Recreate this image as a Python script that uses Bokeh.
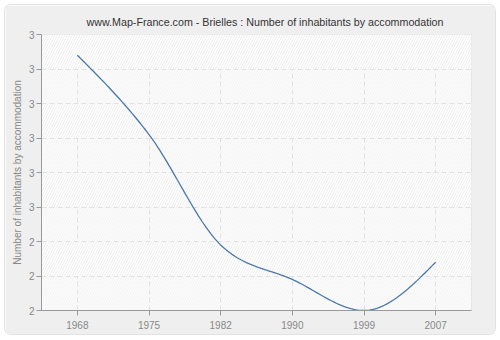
import numpy as np
from bokeh.plotting import figure
from bokeh.models import Range1d, FixedTicker, NumeralTickFormatter, BoxAnnotation
from bokeh.embed import file_html
from bokeh.resources import INLINE

title = "www.Map-France.com - Brielles : Number of inhabitants by accommodation"
y_label = "Number of inhabitants by accommodation"
years = ["1968", "1975", "1982", "1990", "1999", "2007"]
values = [2.94, 2.71, 2.39, 2.29, 2.20, 2.34]
y_ticks = [2.2, 2.3, 2.4, 2.5, 2.6, 2.7, 2.8, 2.9, 3.0]

x = np.arange(len(years), dtype=float)
y = np.array(values, dtype=float)


def monotone_curve(xs, ys, n=40):
    h = np.diff(xs)
    s = np.diff(ys) / h
    m = np.zeros_like(ys)
    for i in range(1, len(ys) - 1):
        p_ = (s[i - 1] * h[i] + s[i] * h[i - 1]) / (h[i - 1] + h[i])
        m[i] = (np.sign(s[i - 1]) + np.sign(s[i])) * min(abs(s[i - 1]), abs(s[i]), 0.5 * abs(p_))
    m[0] = (3 * s[0] - m[1]) / 2
    m[-1] = (3 * s[-1] - m[-2]) / 2
    cx, cy = [], []
    for i in range(len(xs) - 1):
        t = np.linspace(0, 1, n)
        h00 = 2 * t**3 - 3 * t**2 + 1
        h10 = t**3 - 2 * t**2 + t
        h01 = -2 * t**3 + 3 * t**2
        h11 = t**3 - t**2
        cx.extend(xs[i] + t * h[i])
        cy.extend(h00 * ys[i] + h10 * h[i] * m[i] + h01 * ys[i + 1] + h11 * h[i] * m[i + 1])
    return cx, cy


cx, cy = monotone_curve(x, y)

FONT = "Liberation Sans"

p = figure(width=490, height=329, output_backend="svg", toolbar_location=None,
           x_range=Range1d(-0.5, 5.5), y_range=Range1d(2.2, 3.0),
           title=title, min_border_left=36, min_border_right=24,
           min_border_top=29, min_border_bottom=24)
p.margin = (5, 5, 5, 5)
p.styles = {"border-radius": "6px", "overflow": "hidden",
            "box-shadow": "0 0 0 1px #e2e2e2"}

p.border_fill_color = "#efefef"
p.background_fill_color = "#fbfbfb"
p.outline_line_color = "#dddddd"

p.title.text_font = FONT
p.title.text_font_size = "10.7px"
p.title.text_font_style = "normal"
p.title.text_color = "#333333"
p.title.align = "left"
p.title.offset = 45
p.title.vertical_align = "top"
p.title.standoff = 10

bg = BoxAnnotation(fill_color="#fbfbfb", fill_alpha=1.0, hatch_pattern="/",
                   hatch_color="#f4f4f4", hatch_scale=5, hatch_weight=1,
                   line_alpha=0, level="image")
p.add_layout(bg)

p.xaxis.ticker = FixedTicker(ticks=list(x))
p.xaxis.major_label_overrides = {i: yr for i, yr in enumerate(years)}
p.yaxis.ticker = FixedTicker(ticks=y_ticks)
p.yaxis.formatter = NumeralTickFormatter(format="0")
p.yaxis.axis_label = y_label

for ax in (p.xaxis[0], p.yaxis[0]):
    ax.axis_line_color = "#999999"
    ax.major_tick_line_color = "#999999"
    ax.major_tick_out = 5
    ax.major_tick_in = 0
    ax.minor_tick_line_color = None
    ax.major_label_text_font = FONT
    ax.major_label_text_font_size = "10px"
    ax.major_label_text_color = "#888888"
    ax.axis_label_text_font = FONT
    ax.axis_label_text_font_size = "10px"
    ax.axis_label_text_font_style = "normal"
    ax.axis_label_text_color = "#888888"
p.yaxis.axis_label_standoff = 3
p.yaxis.major_label_standoff = 2
p.xaxis.major_label_standoff = 5

p.xgrid.ticker = FixedTicker(ticks=list(x))
p.ygrid.ticker = FixedTicker(ticks=y_ticks)
for g in (p.xgrid[0], p.ygrid[0]):
    g.grid_line_color = "#e2e2e2"
    g.grid_line_dash = "5 3"
    g.grid_line_width = 1
p.ygrid.band_fill_color = "#ffffff"
p.ygrid.band_fill_alpha = 1.0
p.ygrid.band_hatch_pattern = "/"
p.ygrid.band_hatch_color = "#ededed"
p.ygrid.band_hatch_scale = 5
p.ygrid.band_hatch_weight = 1

p.line(cx, cy, line_color="#4a78ad", line_width=1.3)

open("out.html", "w").write(file_html(p, INLINE))
